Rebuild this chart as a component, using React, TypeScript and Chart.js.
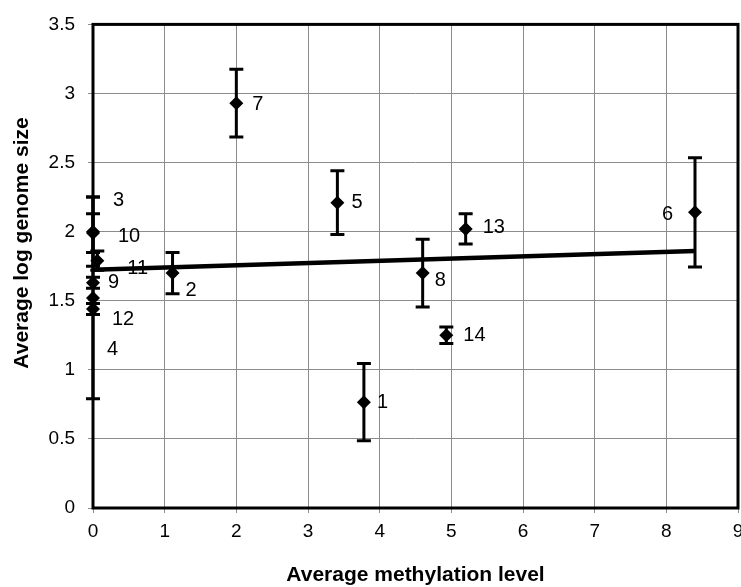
import React, { useEffect, useRef } from "react";
import { Chart, registerables } from "chart.js";

Chart.register(...registerables);

// ---- data ----
const pointLabels = ["1", "2", "3", "4", "5", "6", "7", "8", "9", "10", "11", "12", "13", "14"];
const methylation = [3.78, 1.11, 0, 0, 3.41, 8.4, 2.0, 4.6, 0, 0, 0.06, 0, 5.2, 4.93];
const genomeSize = [0.766, 1.7, 2.0, 1.52, 2.21, 2.14, 2.93, 1.7, 1.63, 1.99, 1.79, 1.44, 2.02, 1.25];
const errorSize = [0.28, 0.15, 0.25, 0.73, 0.23, 0.395, 0.245, 0.245, 0.04, 0.14, 0.07, 0.04, 0.11, 0.06];
const trendX = [0, 8.4];
const trendY = [1.725, 1.86];
const xTicks = [0, 1, 2, 3, 4, 5, 6, 7, 8, 9];
const yTicks = [0, 0.5, 1, 1.5, 2, 2.5, 3, 3.5];
const xTitle = "Average methylation level";
const yTitle = "Average log genome size";

// label placement relative to the point (pixels): [dx, dy, align]
const labelPlacement: Record<string, [number, number, CanvasTextAlign]> = {
  "1": [13, 0, "left"],
  "2": [13, 17, "left"],
  "3": [20, -31, "left"],
  "4": [14, 52, "left"],
  "5": [14, 0, "left"],
  "6": [-22, 2, "right"],
  "7": [16, 1, "left"],
  "8": [12, 7, "left"],
  "9": [15, 0, "left"],
  "10": [25, 3, "left"],
  "11": [30, 8, "left"],
  "12": [19, 10, "left"],
  "13": [17, -1, "left"],
  "14": [17, 0, "left"],
};

const FONT = "'Liberation Sans', Arial, sans-serif";

const decorPlugin = {
  id: "decor",
  beforeDatasetsDraw(chart: any) {
    const ctx = chart.ctx;
    const xs = chart.scales.x;
    const ys = chart.scales.y;
    ctx.save();
    ctx.strokeStyle = "#000";
    ctx.lineWidth = 3;
    ctx.lineCap = "butt";
    for (let i = 0; i < methylation.length; i++) {
      const px = xs.getPixelForValue(methylation[i]);
      const top = ys.getPixelForValue(genomeSize[i] + errorSize[i]);
      const bot = ys.getPixelForValue(genomeSize[i] - errorSize[i]);
      ctx.beginPath();
      ctx.moveTo(px, top);
      ctx.lineTo(px, bot);
      ctx.moveTo(px - 7, top);
      ctx.lineTo(px + 7, top);
      ctx.moveTo(px - 7, bot);
      ctx.lineTo(px + 7, bot);
      ctx.stroke();
    }
    ctx.restore();
  },
  afterDatasetsDraw(chart: any) {
    const ctx = chart.ctx;
    const a = chart.chartArea;
    const xs = chart.scales.x;
    const ys = chart.scales.y;
    ctx.save();
    ctx.strokeStyle = "#000";
    ctx.lineWidth = 3;
    ctx.strokeRect(a.left, a.top, a.right - a.left, a.bottom - a.top);
    ctx.fillStyle = "#000";
    ctx.font = `20px ${FONT}`;
    ctx.textBaseline = "middle";
    for (let i = 0; i < methylation.length; i++) {
      const px = xs.getPixelForValue(methylation[i]);
      const py = ys.getPixelForValue(genomeSize[i]);
      const [dx, dy, align] = labelPlacement[pointLabels[i]];
      ctx.textAlign = align;
      ctx.fillText(pointLabels[i], px + dx, py + dy);
    }
    ctx.font = `bold 21px ${FONT}`;
    ctx.textAlign = "center";
    ctx.fillText(xTitle, (a.left + a.right) / 2, 575);
    ctx.translate(22, 243);
    ctx.rotate(-Math.PI / 2);
    ctx.fillText(yTitle, 0, 0);
    ctx.restore();
  },
};

export default function App() {
  const ref = useRef<HTMLCanvasElement | null>(null);
  useEffect(() => {
    if (!ref.current) return;
    const points = methylation.map((x, i) => ({ x, y: genomeSize[i] }));
    const trend = trendX.map((x, i) => ({ x, y: trendY[i] }));
    const chart = new Chart(ref.current, {
      type: "scatter",
      data: {
        datasets: [
          {
            type: "line",
            data: trend,
            borderColor: "#000",
            borderWidth: 4.5,
            pointRadius: 0,
            fill: false,
          } as any,
          {
            data: points,
            pointStyle: "rectRot",
            pointRadius: 7,
            pointBackgroundColor: "#000",
            pointBorderColor: "#000",
            pointBorderWidth: 0,
            clip: false,
          } as any,
        ],
      },
      options: {
        responsive: false,
        animation: false,
        devicePixelRatio: 1,
        layout: { padding: { left: 0, top: 18, right: 22, bottom: 0 } },
        plugins: { legend: { display: false }, tooltip: { enabled: false } },
        scales: {
          x: {
            type: "linear",
            min: 0,
            max: 9,
            afterBuildTicks: (s: any) => {
              s.ticks = xTicks.map((v) => ({ value: v }));
            },
            afterFit: (s: any) => {
              s.height = 79;
            },
            border: { display: false },
            grid: { color: "#8c8c8c", lineWidth: 1, tickLength: 5, tickColor: "#8c8c8c" },
            ticks: {
              color: "#000",
              font: { family: FONT, size: 19 },
              padding: 7,
              maxRotation: 0,
              autoSkip: false,
              callback: (v: any) => String(v),
            },
          },
          y: {
            type: "linear",
            min: 0,
            max: 3.5,
            afterBuildTicks: (s: any) => {
              s.ticks = yTicks.map((v) => ({ value: v }));
            },
            afterFit: (s: any) => {
              s.width = 93;
            },
            border: { display: false },
            grid: { color: "#8c8c8c", lineWidth: 1, tickLength: 5, tickColor: "#8c8c8c" },
            ticks: {
              color: "#000",
              font: { family: FONT, size: 19 },
              padding: 13,
              autoSkip: false,
              callback: (v: any) => String(v),
            },
          },
        },
      },
      plugins: [decorPlugin],
    });
    return () => chart.destroy();
  }, []);
  return (
    <div
      style={{
        position: "fixed",
        left: 0,
        top: 0,
        width: 741,
        height: 587,
        overflow: "hidden",
        background: "#fff",
      }}
    >
      <canvas ref={ref} width={760} height={587} style={{ display: "block" }} />
    </div>
  );
}
